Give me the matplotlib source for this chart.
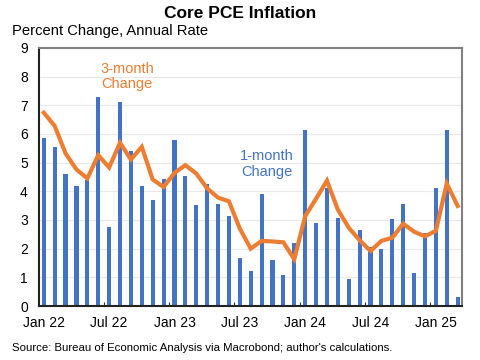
import matplotlib
matplotlib.use("Agg")
import matplotlib.pyplot as plt
import numpy as np

plt.rcParams['font.family'] = ['Liberation Sans', 'DejaVu Sans']

months = ["Jan 22","Feb 22","Mar 22","Apr 22","May 22","Jun 22","Jul 22","Aug 22","Sep 22","Oct 22","Nov 22","Dec 22",
          "Jan 23","Feb 23","Mar 23","Apr 23","May 23","Jun 23","Jul 23","Aug 23","Sep 23","Oct 23","Nov 23","Dec 23",
          "Jan 24","Feb 24","Mar 24","Apr 24","May 24","Jun 24","Jul 24","Aug 24","Sep 24","Oct 24","Nov 24","Dec 24",
          "Jan 25","Feb 25","Mar 25"]
one_month = [5.85, 5.53, 4.60, 4.17, 4.38, 7.28, 2.77, 7.13, 5.40, 4.17, 3.71, 4.43,
             5.79, 4.54, 3.51, 4.25, 3.56, 3.13, 1.66, 1.22, 3.89, 1.59, 1.07, 2.20,
             6.14, 2.90, 4.12, 3.08, 0.95, 2.66, 2.07, 1.99, 3.04, 3.55, 1.16, 2.56,
             4.11, 6.14, 0.31]
three_month = [6.74, 6.28, 5.32, 4.76, 4.45, 5.26, 4.83, 5.69, 5.11, 5.55, 4.41, 4.15,
               4.64, 4.91, 4.62, 4.10, 3.78, 3.65, 2.70, 2.00, 2.27, 2.25, 2.22, 1.63,
               3.13, 3.74, 4.37, 3.36, 2.73, 2.29, 1.92, 2.27, 2.38, 2.87, 2.59, 2.43,
               2.62, 4.27, 3.49]
tick_labels = ["Jan 22", "Jul 22", "Jan 23", "Jul 23", "Jan 24", "Jul 24", "Jan 25"]
yticks = list(range(0, 10))

blue = "#4472C4"
orange = "#ED7D31"

fig = plt.figure(figsize=(4.8, 3.6), dpi=100)
ax = fig.add_axes([0.081, 0.15, 0.8815, 0.717])

x = np.arange(len(months))
ax.bar(x, one_month, width=0.38, color=blue, zorder=2)
ax.plot(x, three_month, color=orange, lw=3, zorder=3, solid_joinstyle='miter')

ax.set_xlim(-0.45, 38.4)
ax.set_ylim(0, 9)
ax.set_yticks(yticks)
ax.set_yticklabels([str(v) for v in yticks], fontsize=10)
ax.yaxis.grid(True, color="#e8e8e8", lw=0.8, zorder=0)
ax.tick_params(axis='y', length=0, pad=8)

# major ticks at month boundaries (no labels), minor ticks at month centres with labels
lab_pos = [months.index(t) for t in tick_labels]
ax.set_xticks([p - 0.5 for p in lab_pos if p > 0])
ax.set_xticklabels([])
ax.tick_params(axis='x', which='major', direction='in', length=3, color='#333333')
ax.set_xticks(lab_pos, minor=True)
ax.set_xticklabels(tick_labels, minor=True, fontsize=10)
ax.tick_params(axis='x', which='minor', length=0, pad=7)

for s in ['left', 'bottom']:
    ax.spines[s].set_color('#222222')
    ax.spines[s].set_linewidth(1.5)
for s in ['top', 'right']:
    ax.spines[s].set_color('#808080')
    ax.spines[s].set_linewidth(1.5)

ax.text(7.64, 8.0, "3-month\nChange", color=orange, fontsize=10.5, ha='center', va='center',
        linespacing=1.15)
ax.text(20.45, 4.95, "1-month\nChange", color=blue, fontsize=10.5, ha='center', va='center',
        linespacing=1.15)

fig.text(0.5, 0.963, "Core PCE Inflation", fontsize=12.5, fontweight='bold', ha='center', va='center')
fig.text(0.024, 0.915, "Percent Change, Annual Rate", fontsize=10.6, ha='left', va='center')
fig.text(0.024, 0.033, "Source: Bureau of Economic Analysis via Macrobond; author's calculations.",
         fontsize=8.2, ha='left', va='center')

fig.savefig("out.png", dpi=100)
